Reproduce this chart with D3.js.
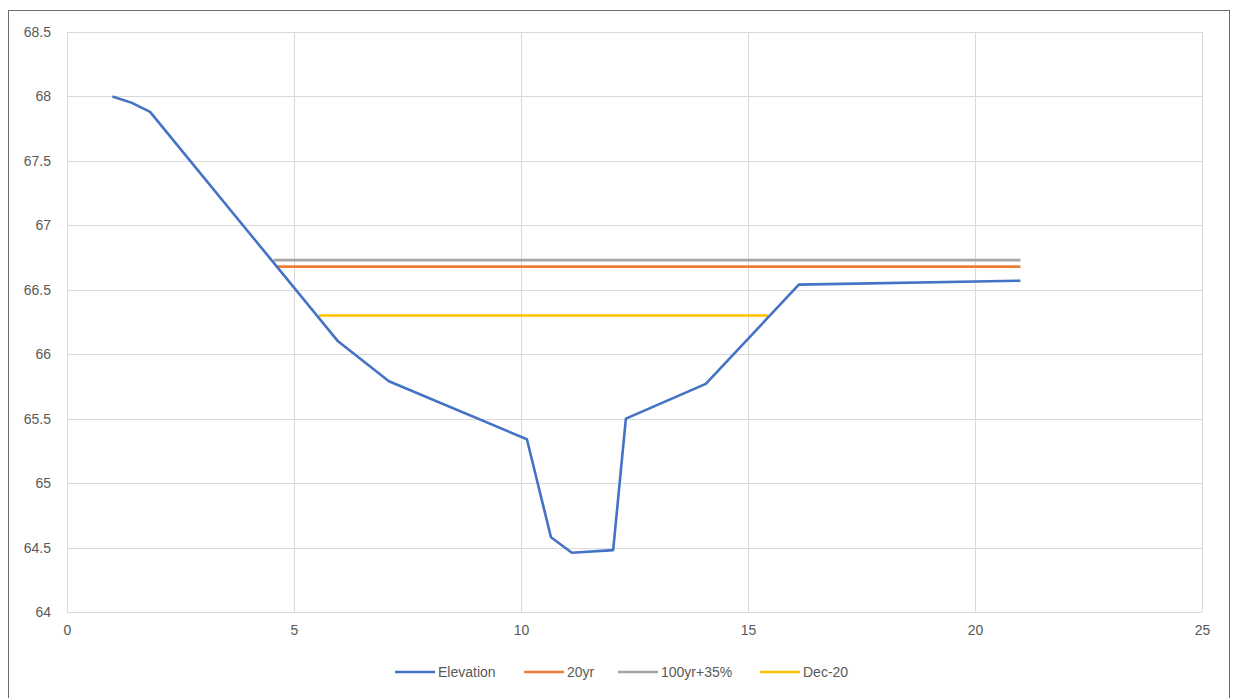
<!DOCTYPE html>
<html><head><meta charset="utf-8">
<script src="https://cdn.jsdelivr.net/npm/d3@7"></script>
<style>body{margin:0;background:#fff;}svg{display:block;font-family:"Liberation Sans",Arial,sans-serif;}</style>
</head><body>
<svg id="c" width="1237" height="698"></svg>
<script>
const elevX = [1.0, 1.43, 1.83, 5.97, 7.09, 10.13, 10.66, 11.12, 12.03, 12.31, 14.07, 16.12, 21.0];
const elevY = [68.0, 67.95, 67.88, 66.1, 65.79, 65.34, 64.58, 64.46, 64.48, 65.5, 65.77, 66.54, 66.57];
const yr20X = [4.6, 21.0];
const yr20Y = [66.68, 66.68];
const yr100X = [4.55, 21.0];
const yr100Y = [66.73, 66.73];
const dec20X = [5.55, 15.44];
const dec20Y = [66.3, 66.3];
const seriesNames = ["Elevation", "20yr", "100yr+35%", "Dec-20"];
const seriesColors = ["#4472C4", "#ED7D31", "#A5A5A5", "#FFC000"];
const xTicks = [0, 5, 10, 15, 20, 25];
const yTicks = [64, 64.5, 65, 65.5, 66, 66.5, 67, 67.5, 68, 68.5];

const svg = d3.select("#c");
// outer frame
svg.append("rect").attr("x", 8.5).attr("y", 10.5).attr("width", 1221).attr("height", 700)
  .attr("fill", "none").attr("stroke", "#6e6e6e").attr("stroke-width", 1);

const x = d3.scaleLinear().domain([0, 25]).range([67, 1202]);
const y = d3.scaleLinear().domain([64, 68.5]).range([612, 32]);

// gridlines
const g = svg.append("g");
g.selectAll(".hg").data(yTicks).enter().append("line")
  .attr("x1", x(0)).attr("x2", x(25))
  .attr("y1", d => Math.round(y(d)) + 0.5).attr("y2", d => Math.round(y(d)) + 0.5)
  .attr("stroke", "#d9d9d9").attr("stroke-width", 1);
g.selectAll(".vg").data(xTicks).enter().append("line")
  .attr("y1", y(64)).attr("y2", y(68.5))
  .attr("x1", d => Math.round(x(d)) + 0.5).attr("x2", d => Math.round(x(d)) + 0.5)
  .attr("stroke", "#d9d9d9").attr("stroke-width", 1);

// axes labels
const xAxis = d3.axisBottom(x).tickValues(xTicks).tickSize(0).tickPadding(13).tickFormat(d3.format("d"));
const xg = svg.append("g").attr("transform", `translate(0,${y(64)})`).call(xAxis);
xg.select(".domain").remove();
xg.selectAll("text").attr("fill", "#595959").attr("font-size", "14px");

const yAxis = d3.axisLeft(y).tickValues(yTicks).tickSize(0).tickPadding(16).tickFormat(d => String(d));
const yg = svg.append("g").attr("transform", `translate(${x(0)},0)`).call(yAxis);
yg.select(".domain").remove();
yg.selectAll("text").attr("fill", "#595959").attr("font-size", "14px");

const line = d3.line().x(d => x(d[0])).y(d => y(d[1]));
const series = [
  d3.zip(yr100X, yr100Y),
  d3.zip(yr20X, yr20Y),
  d3.zip(dec20X, dec20Y),
  d3.zip(elevX, elevY)
];
const sc = [seriesColors[2], seriesColors[1], seriesColors[3], seriesColors[0]];
series.forEach((s, i) => {
  svg.append("path").datum(s).attr("d", line).attr("fill", "none")
    .attr("stroke", sc[i]).attr("stroke-width", 2.6).attr("stroke-linejoin", "round");
});

// legend
const legX = [395, 524, 618, 760];
const lg = svg.append("g");
seriesNames.forEach((n, i) => {
  lg.append("line").attr("x1", legX[i]).attr("x2", legX[i] + 40).attr("y1", 672).attr("y2", 672)
    .attr("stroke", seriesColors[i]).attr("stroke-width", 2.6);
  lg.append("text").attr("x", legX[i] + 43).attr("y", 677).text(n)
    .attr("fill", "#595959").attr("font-size", "14px");
});
</script>
</body></html>
